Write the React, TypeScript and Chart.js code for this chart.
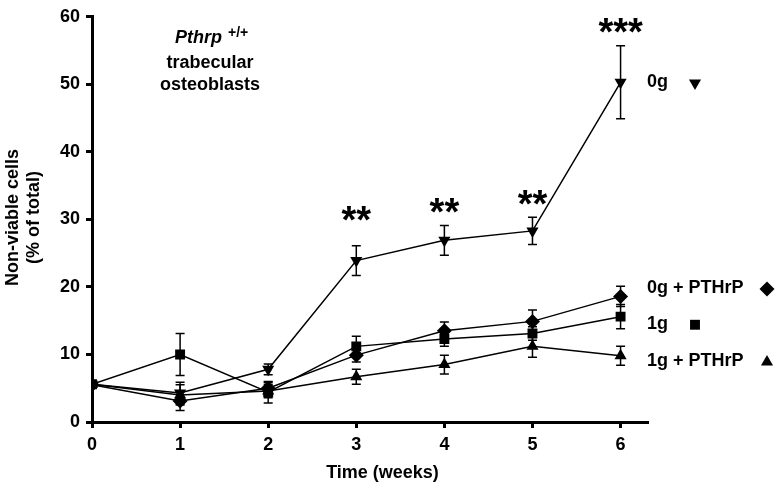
import { useEffect, useRef } from 'react';
import { Chart, registerables } from 'chart.js';

Chart.register(...registerables);

// ---- data ----
const weeks = [0, 1, 2, 3, 4, 5, 6];
const seriesNames = ['0g', '0g + PTHrP', '1g', '1g + PTHrP'];
const g0 = [5.6, 4.3, 7.8, 23.9, 26.9, 28.3, 50.3];
const g0Err = [0, 1.6, 0.8, 2.2, 2.2, 2.0, 5.4];
const g0Pthrp = [5.5, 3.1, 5.0, 9.9, 13.5, 14.9, 18.6];
const g0PthrpErr = [0, 1.4, 0.9, 1.0, 1.3, 1.7, 1.5];
const g1 = [5.6, 10.0, 4.4, 11.2, 12.3, 13.1, 15.6];
const g1Err = [0, 3.1, 1.6, 1.5, 1.1, 1.0, 1.8];
const g1Pthrp = [5.6, 4.0, 4.6, 6.7, 8.5, 11.2, 9.8];
const g1PthrpErr = [0, 1.5, 1.0, 1.1, 1.4, 1.6, 1.4];
const yTickValues = [0, 10, 20, 30, 40, 50, 60];
const significance = ['', '', '', '**', '**', '**', '***'];
const significanceAt = [0, 0, 0, 30.9, 32.0, 33.3, 58.7];
const labelAt = [50.2, 19.7, 14.4, 8.9];

const FONT = '"Liberation Sans", Arial, Helvetica, sans-serif';

type Marker = { style: string; rot: number; r: number };
const markers: Marker[] = [
  { style: 'triangle', rot: 180, r: 7 },
  { style: 'rectRot', rot: 0, r: 7.5 },
  { style: 'rect', rot: 0, r: 7 },
  { style: 'triangle', rot: 0, r: 7 },
];
const markerColumn = [48, 120, 48, 120];

function drawMarker(ctx: CanvasRenderingContext2D, m: Marker, x: number, y: number) {
  ctx.beginPath();
  if (m.style === 'triangle') {
    let rad = (m.rot * Math.PI) / 180;
    ctx.moveTo(x + Math.sin(rad) * m.r, y - Math.cos(rad) * m.r);
    rad += (2 * Math.PI) / 3;
    ctx.lineTo(x + Math.sin(rad) * m.r, y - Math.cos(rad) * m.r);
    rad += (2 * Math.PI) / 3;
    ctx.lineTo(x + Math.sin(rad) * m.r, y - Math.cos(rad) * m.r);
  } else if (m.style === 'rectRot') {
    ctx.moveTo(x, y - m.r);
    ctx.lineTo(x + m.r, y);
    ctx.lineTo(x, y + m.r);
    ctx.lineTo(x - m.r, y);
  } else {
    const s = Math.SQRT1_2 * m.r;
    ctx.rect(x - s, y - s, 2 * s, 2 * s);
  }
  ctx.closePath();
  ctx.fill();
}

function drawCentered(ctx: CanvasRenderingContext2D, text: string, x: number, y: number, align: CanvasTextAlign = 'center') {
  ctx.textAlign = align;
  ctx.textBaseline = 'alphabetic';
  const m = ctx.measureText(text);
  const asc = m.actualBoundingBoxAscent;
  const desc = m.actualBoundingBoxDescent;
  ctx.fillText(text, x, y + (asc - desc) / 2);
}

const values = [g0, g0Pthrp, g1, g1Pthrp];
const errors = [g0Err, g0PthrpErr, g1Err, g1PthrpErr];

const errorBarPlugin = {
  id: 'errorBars',
  beforeDatasetsDraw(chart: any) {
    const ctx = chart.ctx as CanvasRenderingContext2D;
    const xs = chart.scales.x;
    const ys = chart.scales.y;
    ctx.save();
    ctx.strokeStyle = '#000';
    ctx.lineWidth = 1.5;
    values.forEach((vals, i) => {
      vals.forEach((v, j) => {
        const e = errors[i][j];
        if (!e) return;
        const x = xs.getPixelForValue(weeks[j]);
        const yt = ys.getPixelForValue(v + e);
        const yb = ys.getPixelForValue(v - e);
        ctx.beginPath();
        ctx.moveTo(x, yt);
        ctx.lineTo(x, yb);
        ctx.moveTo(x - 4.5, yt);
        ctx.lineTo(x + 4.5, yt);
        ctx.moveTo(x - 4.5, yb);
        ctx.lineTo(x + 4.5, yb);
        ctx.stroke();
      });
    });
    ctx.restore();
  },
};

const annotationPlugin = {
  id: 'annotations',
  afterDraw(chart: any) {
    const ctx = chart.ctx as CanvasRenderingContext2D;
    const xs = chart.scales.x;
    const ys = chart.scales.y;
    const ca = chart.chartArea;
    ctx.save();
    ctx.fillStyle = '#000';

    // significance stars
    ctx.font = `bold 38px ${FONT}`;
    significance.forEach((s, j) => {
      if (!s) return;
      drawCentered(ctx, s, xs.getPixelForValue(weeks[j]), ys.getPixelForValue(significanceAt[j]));
    });

    // series labels and markers at the right
    ctx.font = `bold 18px ${FONT}`;
    seriesNames.forEach((name, i) => {
      const y = ys.getPixelForValue(labelAt[i]);
      ctx.font = `bold 18px ${FONT}`;
      drawCentered(ctx, name, ca.right, y, 'left');
      drawMarker(ctx, markers[i], ca.right + markerColumn[i], y);
    });

    // group annotation
    const ax = ca.left + 118;
    ctx.font = `italic bold 18px ${FONT}`;
    drawCentered(ctx, 'Pthrp', ax + 12, ca.top + 22, 'right');
    ctx.font = `bold 14px ${FONT}`;
    drawCentered(ctx, '+/+', ax + 18, ca.top + 15, 'left');
    ctx.font = `bold 18px ${FONT}`;
    drawCentered(ctx, 'trabecular', ax, ca.top + 45);
    drawCentered(ctx, 'osteoblasts', ax, ca.top + 67);

    // axis titles
    ctx.font = `bold 18px ${FONT}`;
    drawCentered(ctx, 'Time (weeks)', (ca.left + ca.right) / 2 + 13, ca.bottom + 51);
    const cy = (ca.top + ca.bottom) / 2 - 2;
    ctx.save();
    ctx.translate(ca.left - 81, cy);
    ctx.rotate(-Math.PI / 2);
    drawCentered(ctx, 'Non-viable cells', 0, 0);
    ctx.restore();
    ctx.save();
    ctx.translate(ca.left - 58, cy);
    ctx.rotate(-Math.PI / 2);
    drawCentered(ctx, '(% of total)', 0, 0);
    ctx.restore();

    ctx.restore();
  },
};

export default function App() {
  const ref = useRef<HTMLCanvasElement | null>(null);
  useEffect(() => {
    if (!ref.current) return;
    const datasets = values.map((vals, i) => ({
      label: seriesNames[i],
      data: vals.map((v, j) => ({ x: weeks[j], y: v })),
      borderColor: '#000',
      borderWidth: 1.5,
      backgroundColor: '#000',
      pointBackgroundColor: '#000',
      pointBorderColor: '#000',
      pointBorderWidth: 0,
      pointStyle: markers[i].style,
      pointRotation: markers[i].rot,
      pointRadius: markers[i].r,
      fill: false,
      tension: 0,
    }));
    const chart = new Chart(ref.current, {
      type: 'line',
      data: { datasets },
      plugins: [errorBarPlugin, annotationPlugin],
      options: {
        animation: false,
        responsive: false,
        maintainAspectRatio: false,
        layout: { padding: { top: 10, right: 130, left: 0, bottom: 0 } },
        plugins: { legend: { display: false }, tooltip: { enabled: false } },
        scales: {
          x: {
            type: 'linear',
            min: 0,
            max: 6.3,
            afterFit: (s: any) => { s.height = 66; },
            ticks: {
              stepSize: 1,
              includeBounds: false,
              padding: 6,
              color: '#000',
              font: { family: FONT, size: 18, weight: 'bold' },
              callback: (v: any) => String(v),
            },
            grid: { display: true, drawOnChartArea: false, drawTicks: true, tickLength: 6, lineWidth: 3, color: '#000' },
            border: { display: true, width: 3, color: '#000' },
          },
          y: {
            type: 'linear',
            min: yTickValues[0],
            max: yTickValues[yTickValues.length - 1],
            afterFit: (s: any) => { s.width = 92; },
            afterBuildTicks: (s: any) => { s.ticks = yTickValues.map((v) => ({ value: v })); },
            ticks: {
              padding: 6,
              color: '#000',
              font: { family: FONT, size: 18, weight: 'bold' },
            },
            grid: { display: true, drawOnChartArea: false, drawTicks: true, tickLength: 6, lineWidth: 3, color: '#000' },
            border: { display: true, width: 3, color: '#000' },
          },
        },
      } as any,
    });
    return () => chart.destroy();
  }, []);
  return (
    <div style={{ position: 'fixed', left: 0, top: 0, width: 777, height: 488, background: '#fff' }}>
      <canvas ref={ref} width={777} height={488} />
    </div>
  );
}
